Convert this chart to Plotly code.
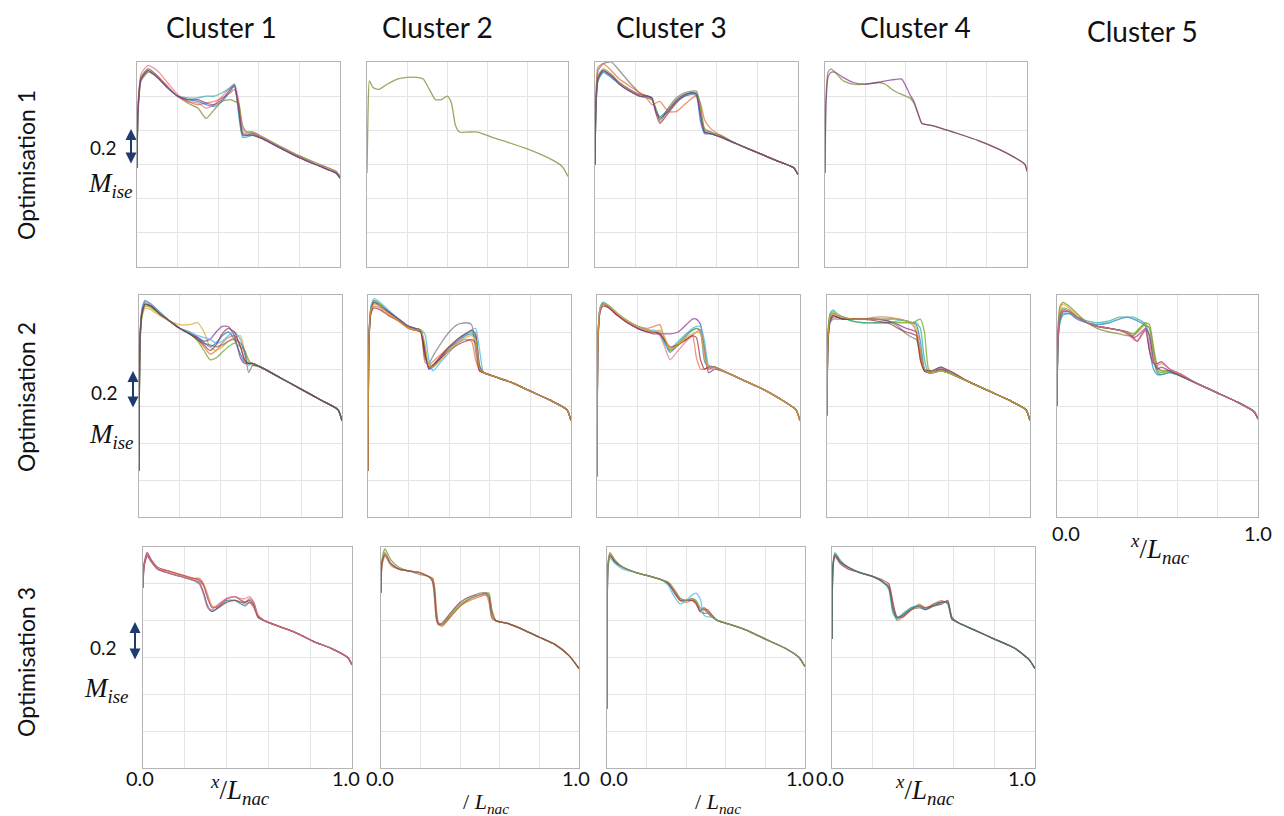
import plotly.graph_objects as go

# page is 1284x816; the browser body adds an 8px margin, so the figure is sized to fit
PAGE_W, PAGE_H, OFF = 1284, 816, 8
W, H = PAGE_W - OFF, PAGE_H - OFF

# ---------------- data: x/L_nac grids and M_ise curves per panel ----------------
X_O1C1 = [0, 0.005, 0.02, 0.055, 0.10, 0.15, 0.20, 0.25, 0.30, 0.34, 0.38, 0.42, 0.46, 0.48, 0.50, 0.52, 0.54, 0.57, 0.62, 0.70, 0.80, 0.90, 0.98, 1.0]
Y_O1C1 = [
    [0.78, 1.12, 1.30, 1.35, 1.31, 1.25, 1.20, 1.18, 1.17, 1.15, 1.14, 1.17, 1.23, 1.26, 1.12, 0.97, 0.97, 0.98, 0.95, 0.90, 0.84, 0.79, 0.75, 0.72],
    [0.78, 1.15, 1.33, 1.38, 1.35, 1.28, 1.21, 1.17, 1.16, 1.13, 1.15, 1.20, 1.25, 1.27, 1.18, 1.01, 0.99, 0.99, 0.96, 0.91, 0.85, 0.80, 0.76, 0.73],
    [0.78, 1.10, 1.29, 1.34, 1.31, 1.25, 1.20, 1.16, 1.13, 1.07, 1.12, 1.17, 1.18, 1.17, 1.16, 1.03, 0.99, 0.99, 0.96, 0.91, 0.85, 0.80, 0.76, 0.73],
    [0.78, 1.13, 1.31, 1.36, 1.32, 1.25, 1.20, 1.19, 1.19, 1.20, 1.20, 1.22, 1.25, 1.27, 1.10, 0.96, 0.96, 0.97, 0.95, 0.90, 0.84, 0.79, 0.75, 0.72],
    [0.78, 1.14, 1.31, 1.36, 1.32, 1.26, 1.20, 1.17, 1.15, 1.16, 1.17, 1.19, 1.22, 1.24, 1.15, 0.99, 0.98, 0.98, 0.95, 0.90, 0.84, 0.79, 0.75, 0.72],
    [0.78, 1.11, 1.30, 1.35, 1.31, 1.25, 1.20, 1.18, 1.18, 1.16, 1.15, 1.18, 1.24, 1.26, 1.14, 0.98, 0.97, 0.97, 0.95, 0.90, 0.84, 0.79, 0.75, 0.72],
]
C_O1C1 = ["blue", "pink", "olive", "teal", "orange", "purple"]

X_O1C2 = [0, 0.005, 0.012, 0.03, 0.06, 0.10, 0.15, 0.20, 0.25, 0.28, 0.31, 0.34, 0.37, 0.40, 0.42, 0.44, 0.46, 0.50, 0.55, 0.62, 0.70, 0.80, 0.90, 0.97, 1.0]
Y_O1C2 = [
    [0.75, 1.10, 1.29, 1.25, 1.24, 1.27, 1.30, 1.31, 1.31, 1.30, 1.24, 1.18, 1.18, 1.20, 1.16, 1.03, 0.99, 0.99, 0.99, 0.96, 0.93, 0.89, 0.84, 0.79, 0.73],
]
C_O1C2 = ["olive"]

X_O1C3 = [0, 0.005, 0.015, 0.04, 0.08, 0.12, 0.17, 0.22, 0.26, 0.28, 0.30, 0.32, 0.36, 0.40, 0.44, 0.48, 0.50, 0.52, 0.54, 0.57, 0.62, 0.70, 0.80, 0.90, 0.98, 1.0]
Y_O1C3 = [
    [0.80, 1.15, 1.30, 1.35, 1.32, 1.28, 1.24, 1.21, 1.20, 1.19, 1.10, 1.04, 1.10, 1.16, 1.20, 1.22, 1.21, 1.10, 0.99, 0.98, 0.96, 0.92, 0.87, 0.82, 0.78, 0.74],
    [0.80, 1.20, 1.35, 1.39, 1.40, 1.35, 1.28, 1.22, 1.20, 1.19, 1.12, 1.06, 1.13, 1.19, 1.22, 1.23, 1.23, 1.14, 1.01, 0.99, 0.97, 0.92, 0.87, 0.82, 0.78, 0.74],
    [0.80, 1.14, 1.29, 1.34, 1.31, 1.27, 1.23, 1.20, 1.19, 1.18, 1.12, 1.08, 1.12, 1.17, 1.20, 1.21, 1.20, 1.05, 0.98, 0.98, 0.96, 0.92, 0.87, 0.82, 0.78, 0.74],
    [0.80, 1.22, 1.37, 1.39, 1.35, 1.30, 1.26, 1.22, 1.18, 1.15, 1.16, 1.17, 1.11, 1.11, 1.15, 1.19, 1.20, 1.16, 1.06, 1.01, 0.97, 0.92, 0.87, 0.82, 0.78, 0.74],
    [0.80, 1.17, 1.32, 1.36, 1.33, 1.28, 1.23, 1.20, 1.19, 1.18, 1.13, 1.05, 1.12, 1.18, 1.21, 1.22, 1.22, 1.12, 1.00, 0.99, 0.96, 0.92, 0.87, 0.82, 0.78, 0.74],
    [0.80, 1.16, 1.31, 1.35, 1.32, 1.27, 1.23, 1.20, 1.20, 1.19, 1.11, 1.07, 1.11, 1.17, 1.21, 1.22, 1.21, 1.08, 0.99, 0.98, 0.96, 0.92, 0.87, 0.82, 0.78, 0.74],
]
C_O1C3 = ["darkred", "gray", "blue", "orange", "green", "purple"]

X_O1C4 = [0, 0.005, 0.015, 0.03, 0.05, 0.09, 0.14, 0.20, 0.26, 0.30, 0.33, 0.36, 0.38, 0.40, 0.42, 0.44, 0.46, 0.48, 0.52, 0.58, 0.66, 0.76, 0.86, 0.94, 0.99, 1.0]
Y_O1C4 = [
    [0.75, 1.20, 1.34, 1.36, 1.34, 1.29, 1.27, 1.27, 1.28, 1.27, 1.24, 1.22, 1.21, 1.20, 1.19, 1.16, 1.10, 1.04, 1.03, 1.01, 0.98, 0.94, 0.89, 0.84, 0.80, 0.76],
    [0.75, 1.15, 1.31, 1.34, 1.34, 1.31, 1.28, 1.27, 1.28, 1.29, 1.295, 1.30, 1.30, 1.26, 1.21, 1.17, 1.10, 1.04, 1.03, 1.01, 0.98, 0.94, 0.89, 0.84, 0.80, 0.76],
]
C_O1C4 = ["olive", "purple"]

X_O2C1 = [0, 0.005, 0.015, 0.03, 0.06, 0.10, 0.15, 0.20, 0.25, 0.29, 0.32, 0.35, 0.38, 0.41, 0.44, 0.47, 0.50, 0.52, 0.54, 0.56, 0.60, 0.70, 0.80, 0.90, 0.98, 1.0]
Y_O2C1 = [
    [0.45, 1.15, 1.30, 1.35, 1.34, 1.30, 1.26, 1.22, 1.20, 1.17, 1.14, 1.12, 1.14, 1.18, 1.20, 1.16, 1.08, 1.04, 1.03, 1.03, 1.01, 0.95, 0.89, 0.83, 0.78, 0.72],
    [0.45, 1.17, 1.31, 1.36, 1.34, 1.30, 1.26, 1.22, 1.19, 1.16, 1.12, 1.08, 1.10, 1.14, 1.17, 1.18, 1.12, 1.05, 1.03, 1.03, 1.01, 0.95, 0.89, 0.83, 0.78, 0.72],
    [0.45, 1.13, 1.28, 1.33, 1.32, 1.29, 1.26, 1.24, 1.24, 1.25, 1.20, 1.12, 1.10, 1.12, 1.15, 1.17, 1.18, 1.10, 1.04, 1.03, 1.01, 0.95, 0.89, 0.83, 0.78, 0.72],
    [0.45, 1.16, 1.32, 1.37, 1.35, 1.31, 1.26, 1.22, 1.19, 1.17, 1.15, 1.16, 1.20, 1.23, 1.23, 1.18, 1.06, 1.03, 1.03, 1.03, 1.01, 0.95, 0.89, 0.83, 0.78, 0.72],
    [0.45, 1.14, 1.29, 1.34, 1.33, 1.30, 1.26, 1.22, 1.19, 1.15, 1.10, 1.05, 1.06, 1.09, 1.12, 1.14, 1.12, 1.10, 1.05, 1.02, 1.01, 0.95, 0.89, 0.83, 0.78, 0.72],
    [0.45, 1.18, 1.33, 1.37, 1.35, 1.31, 1.26, 1.22, 1.20, 1.18, 1.17, 1.16, 1.14, 1.15, 1.18, 1.20, 1.16, 1.08, 1.02, 1.03, 1.01, 0.95, 0.89, 0.83, 0.78, 0.72],
    [0.45, 1.15, 1.30, 1.35, 1.34, 1.30, 1.26, 1.22, 1.19, 1.16, 1.13, 1.10, 1.13, 1.19, 1.22, 1.20, 1.12, 1.05, 1.03, 1.03, 1.01, 0.95, 0.89, 0.83, 0.78, 0.72],
    [0.45, 1.16, 1.31, 1.35, 1.34, 1.30, 1.26, 1.22, 1.19, 1.16, 1.14, 1.13, 1.12, 1.13, 1.15, 1.16, 1.14, 1.10, 0.98, 1.02, 1.01, 0.95, 0.89, 0.83, 0.78, 0.72],
]
C_O2C1 = ["blue", "orange", "yellow", "purple", "green", "lightblue", "darkred", "gray"]

X_O2C2 = [0, 0.005, 0.015, 0.03, 0.06, 0.10, 0.15, 0.20, 0.23, 0.26, 0.28, 0.30, 0.32, 0.36, 0.40, 0.44, 0.48, 0.51, 0.53, 0.55, 0.57, 0.62, 0.70, 0.80, 0.90, 0.98, 1.0]
Y_O2C2 = [
    [0.45, 1.18, 1.33, 1.37, 1.35, 1.31, 1.27, 1.23, 1.22, 1.21, 1.10, 1.00, 1.01, 1.06, 1.11, 1.15, 1.18, 1.19, 1.17, 1.00, 0.98, 0.96, 0.93, 0.88, 0.83, 0.78, 0.72],
    [0.45, 1.16, 1.31, 1.34, 1.33, 1.30, 1.26, 1.22, 1.21, 1.20, 1.04, 1.02, 1.04, 1.08, 1.12, 1.14, 1.16, 1.15, 1.05, 0.99, 0.98, 0.96, 0.93, 0.88, 0.83, 0.78, 0.72],
    [0.45, 1.17, 1.32, 1.36, 1.34, 1.31, 1.27, 1.23, 1.22, 1.20, 1.06, 1.03, 1.07, 1.14, 1.20, 1.24, 1.25, 1.24, 1.10, 0.99, 0.98, 0.96, 0.93, 0.88, 0.83, 0.78, 0.72],
    [0.45, 1.19, 1.34, 1.38, 1.36, 1.32, 1.27, 1.23, 1.22, 1.21, 1.19, 1.05, 0.99, 1.04, 1.09, 1.14, 1.18, 1.21, 1.22, 1.10, 0.98, 0.96, 0.93, 0.88, 0.83, 0.78, 0.72],
    [0.45, 1.18, 1.33, 1.37, 1.35, 1.31, 1.27, 1.23, 1.22, 1.21, 1.12, 1.01, 1.02, 1.07, 1.12, 1.16, 1.19, 1.20, 1.18, 1.02, 0.98, 0.96, 0.93, 0.88, 0.83, 0.78, 0.72],
    [0.45, 1.15, 1.30, 1.33, 1.32, 1.29, 1.26, 1.22, 1.21, 1.20, 1.08, 1.01, 1.02, 1.06, 1.10, 1.13, 1.15, 1.16, 1.14, 0.99, 0.98, 0.96, 0.93, 0.88, 0.83, 0.78, 0.72],
    [0.45, 1.17, 1.32, 1.36, 1.34, 1.31, 1.27, 1.23, 1.22, 1.21, 1.10, 1.00, 1.02, 1.07, 1.12, 1.16, 1.19, 1.21, 1.19, 1.01, 0.98, 0.96, 0.93, 0.88, 0.83, 0.78, 0.72],
    [0.45, 1.17, 1.32, 1.35, 1.34, 1.30, 1.26, 1.22, 1.21, 1.21, 1.14, 1.02, 1.01, 1.05, 1.10, 1.14, 1.17, 1.18, 1.16, 1.00, 0.98, 0.96, 0.93, 0.88, 0.83, 0.78, 0.72],
]
C_O2C2 = ["blue", "orange", "gray", "lightblue", "green", "darkred", "purple", "yellow"]

X_O2C3 = [0, 0.005, 0.015, 0.03, 0.06, 0.10, 0.15, 0.20, 0.25, 0.28, 0.31, 0.33, 0.36, 0.40, 0.44, 0.47, 0.49, 0.51, 0.53, 0.55, 0.58, 0.64, 0.72, 0.80, 0.90, 0.98, 1.0]
Y_O2C3 = [
    [0.42, 1.17, 1.32, 1.35, 1.34, 1.30, 1.26, 1.23, 1.21, 1.20, 1.19, 1.15, 1.09, 1.13, 1.18, 1.21, 1.22, 1.20, 1.04, 1.01, 1.01, 0.98, 0.94, 0.90, 0.84, 0.78, 0.72],
    [0.42, 1.18, 1.33, 1.36, 1.34, 1.30, 1.26, 1.23, 1.22, 1.23, 1.24, 1.17, 1.10, 1.13, 1.16, 1.18, 1.06, 1.00, 1.00, 1.01, 1.01, 0.98, 0.94, 0.90, 0.84, 0.78, 0.72],
    [0.42, 1.15, 1.31, 1.34, 1.33, 1.29, 1.25, 1.22, 1.20, 1.19, 1.19, 1.19, 1.19, 1.20, 1.24, 1.27, 1.27, 1.24, 1.10, 0.98, 1.00, 0.98, 0.94, 0.90, 0.84, 0.78, 0.72],
    [0.42, 1.16, 1.32, 1.36, 1.34, 1.30, 1.26, 1.23, 1.21, 1.20, 1.19, 1.16, 1.10, 1.14, 1.19, 1.21, 1.22, 1.21, 1.12, 1.00, 1.01, 0.98, 0.94, 0.90, 0.84, 0.78, 0.72],
    [0.42, 1.17, 1.32, 1.35, 1.33, 1.29, 1.25, 1.22, 1.21, 1.20, 1.18, 1.13, 1.05, 1.10, 1.15, 1.18, 1.20, 1.21, 1.08, 1.00, 1.01, 0.98, 0.94, 0.90, 0.84, 0.78, 0.72],
    [0.42, 1.18, 1.33, 1.36, 1.34, 1.30, 1.26, 1.23, 1.21, 1.21, 1.20, 1.14, 1.11, 1.15, 1.19, 1.22, 1.23, 1.23, 1.15, 1.02, 1.01, 0.98, 0.94, 0.90, 0.84, 0.78, 0.72],
    [0.42, 1.16, 1.31, 1.35, 1.33, 1.29, 1.25, 1.22, 1.20, 1.20, 1.19, 1.16, 1.12, 1.13, 1.16, 1.18, 1.17, 1.05, 1.00, 1.01, 1.01, 0.98, 0.94, 0.90, 0.84, 0.78, 0.72],
    [0.42, 1.17, 1.32, 1.35, 1.34, 1.30, 1.26, 1.23, 1.21, 1.20, 1.21, 1.18, 1.11, 1.13, 1.17, 1.19, 1.20, 1.19, 1.06, 1.01, 1.01, 0.98, 0.94, 0.90, 0.84, 0.78, 0.72],
]
C_O2C3 = ["blue", "orange", "purple", "green", "pink", "lightblue", "darkred", "yellow"]

X_O2C4 = [0, 0.005, 0.015, 0.03, 0.05, 0.08, 0.12, 0.18, 0.24, 0.30, 0.35, 0.39, 0.42, 0.44, 0.46, 0.48, 0.50, 0.52, 0.56, 0.62, 0.70, 0.80, 0.90, 0.98, 1.0]
Y_O2C4 = [
    [0.75, 1.18, 1.28, 1.30, 1.29, 1.28, 1.27, 1.27, 1.27, 1.27, 1.27, 1.26, 1.25, 1.24, 1.15, 1.00, 0.98, 0.98, 0.99, 0.97, 0.93, 0.88, 0.83, 0.78, 0.72],
    [0.75, 1.17, 1.27, 1.29, 1.28, 1.27, 1.27, 1.27, 1.28, 1.28, 1.27, 1.26, 1.24, 1.20, 1.05, 0.99, 0.98, 0.98, 1.00, 0.97, 0.93, 0.88, 0.83, 0.78, 0.72],
    [0.75, 1.15, 1.26, 1.28, 1.28, 1.27, 1.27, 1.27, 1.27, 1.26, 1.24, 1.22, 1.21, 1.20, 1.10, 0.99, 0.98, 0.98, 1.00, 0.97, 0.93, 0.88, 0.83, 0.78, 0.72],
    [0.75, 1.19, 1.29, 1.31, 1.29, 1.28, 1.26, 1.25, 1.25, 1.25, 1.25, 1.25, 1.25, 1.26, 1.27, 1.20, 1.00, 0.98, 0.99, 0.97, 0.93, 0.88, 0.83, 0.78, 0.72],
    [0.75, 1.20, 1.30, 1.32, 1.30, 1.28, 1.26, 1.25, 1.25, 1.25, 1.26, 1.26, 1.25, 1.25, 1.22, 1.05, 0.98, 0.98, 0.99, 0.97, 0.93, 0.88, 0.83, 0.78, 0.72],
    [0.75, 1.16, 1.26, 1.29, 1.28, 1.27, 1.27, 1.27, 1.26, 1.25, 1.22, 1.20, 1.19, 1.18, 1.05, 0.99, 0.99, 0.99, 1.01, 0.98, 0.93, 0.88, 0.83, 0.78, 0.72],
    [0.75, 1.14, 1.25, 1.27, 1.27, 1.27, 1.27, 1.27, 1.27, 1.26, 1.23, 1.19, 1.17, 1.16, 1.08, 1.00, 0.99, 0.99, 1.01, 0.98, 0.93, 0.88, 0.83, 0.78, 0.72],
    [0.75, 1.17, 1.28, 1.30, 1.29, 1.28, 1.27, 1.27, 1.27, 1.27, 1.27, 1.26, 1.25, 1.22, 1.10, 1.00, 0.98, 0.98, 0.99, 0.97, 0.93, 0.88, 0.83, 0.78, 0.72],
]
C_O2C4 = ["blue", "orange", "purple", "green", "teal", "darkred", "gray", "yellow"]

X_O2C5 = [0, 0.005, 0.015, 0.03, 0.06, 0.10, 0.15, 0.20, 0.26, 0.31, 0.35, 0.38, 0.40, 0.42, 0.44, 0.46, 0.48, 0.50, 0.52, 0.56, 0.62, 0.70, 0.80, 0.90, 0.98, 1.0]
Y_O2C5 = [
    [0.80, 1.15, 1.26, 1.30, 1.30, 1.27, 1.25, 1.24, 1.25, 1.27, 1.28, 1.27, 1.26, 1.25, 1.23, 1.10, 1.00, 0.97, 0.97, 0.98, 0.96, 0.92, 0.87, 0.82, 0.77, 0.73],
    [0.80, 1.20, 1.32, 1.35, 1.33, 1.29, 1.25, 1.23, 1.22, 1.21, 1.20, 1.19, 1.20, 1.22, 1.24, 1.22, 1.10, 1.00, 0.99, 0.99, 0.96, 0.92, 0.87, 0.82, 0.77, 0.73],
    [0.80, 1.22, 1.34, 1.36, 1.34, 1.30, 1.25, 1.22, 1.20, 1.19, 1.18, 1.18, 1.20, 1.23, 1.25, 1.24, 1.12, 1.01, 0.99, 0.99, 0.96, 0.92, 0.87, 0.82, 0.77, 0.73],
    [0.80, 1.17, 1.29, 1.32, 1.31, 1.28, 1.25, 1.23, 1.22, 1.21, 1.20, 1.17, 1.15, 1.18, 1.21, 1.10, 1.03, 1.03, 1.04, 1.00, 0.97, 0.92, 0.87, 0.82, 0.77, 0.73],
    [0.80, 1.14, 1.25, 1.29, 1.30, 1.28, 1.26, 1.25, 1.26, 1.28, 1.28, 1.28, 1.27, 1.26, 1.24, 1.18, 1.05, 0.98, 0.97, 0.98, 0.96, 0.92, 0.87, 0.82, 0.77, 0.73],
    [0.80, 1.18, 1.30, 1.33, 1.32, 1.28, 1.25, 1.23, 1.22, 1.21, 1.20, 1.19, 1.21, 1.23, 1.24, 1.22, 1.08, 0.99, 0.98, 0.99, 0.96, 0.92, 0.87, 0.82, 0.77, 0.73],
    [0.80, 1.16, 1.28, 1.31, 1.31, 1.28, 1.25, 1.23, 1.22, 1.21, 1.19, 1.17, 1.18, 1.20, 1.22, 1.18, 1.04, 1.00, 1.01, 0.99, 0.96, 0.92, 0.87, 0.82, 0.77, 0.73],
    [0.80, 1.17, 1.29, 1.32, 1.31, 1.28, 1.25, 1.23, 1.22, 1.21, 1.19, 1.16, 1.15, 1.19, 1.21, 1.14, 1.04, 1.02, 1.03, 1.00, 0.97, 0.92, 0.87, 0.82, 0.77, 0.73],
]
C_O2C5 = ["blue", "yellow", "olive", "darkred", "teal", "green", "purple", "pink"]

X_O3C1 = [0, 0.005, 0.02, 0.04, 0.07, 0.12, 0.18, 0.24, 0.27, 0.29, 0.31, 0.33, 0.36, 0.40, 0.44, 0.47, 0.49, 0.51, 0.53, 0.55, 0.58, 0.66, 0.74, 0.82, 0.90, 0.98, 1.0]
Y_O3C1 = [
    [1.18, 1.30, 1.36, 1.32, 1.28, 1.26, 1.24, 1.22, 1.20, 1.15, 1.08, 1.05, 1.07, 1.11, 1.11, 1.09, 1.08, 1.10, 1.08, 1.02, 1.00, 0.965, 0.93, 0.885, 0.85, 0.80, 0.76],
    [1.18, 1.31, 1.37, 1.33, 1.29, 1.27, 1.25, 1.23, 1.22, 1.19, 1.12, 1.07, 1.08, 1.12, 1.13, 1.11, 1.10, 1.11, 1.09, 1.02, 1.00, 0.965, 0.93, 0.885, 0.85, 0.80, 0.76],
    [1.18, 1.30, 1.35, 1.32, 1.28, 1.27, 1.25, 1.23, 1.23, 1.20, 1.14, 1.08, 1.07, 1.10, 1.11, 1.10, 1.09, 1.10, 1.07, 1.02, 1.00, 0.965, 0.93, 0.885, 0.85, 0.80, 0.76],
    [1.18, 1.29, 1.35, 1.32, 1.28, 1.26, 1.24, 1.22, 1.21, 1.15, 1.07, 1.05, 1.07, 1.10, 1.11, 1.10, 1.10, 1.12, 1.10, 1.03, 1.00, 0.965, 0.93, 0.885, 0.85, 0.80, 0.76],
    [1.18, 1.30, 1.36, 1.32, 1.28, 1.26, 1.24, 1.22, 1.20, 1.14, 1.07, 1.06, 1.09, 1.12, 1.13, 1.12, 1.12, 1.13, 1.10, 1.03, 1.00, 0.965, 0.93, 0.885, 0.85, 0.80, 0.76],
]
C_O3C1 = ["blue", "darkred", "orange", "gray", "pink"]

X_O3C2 = [0, 0.005, 0.02, 0.05, 0.09, 0.14, 0.20, 0.24, 0.26, 0.27, 0.28, 0.29, 0.31, 0.35, 0.40, 0.45, 0.50, 0.53, 0.545, 0.56, 0.58, 0.64, 0.72, 0.80, 0.88, 0.95, 1.0]
Y_O3C2 = [
    [1.15, 1.32, 1.37, 1.31, 1.28, 1.27, 1.26, 1.24, 1.22, 1.15, 1.02, 0.98, 0.98, 1.03, 1.09, 1.12, 1.14, 1.15, 1.14, 1.04, 1.00, 0.985, 0.95, 0.91, 0.87, 0.81, 0.74],
    [1.15, 1.33, 1.39, 1.33, 1.29, 1.27, 1.26, 1.24, 1.23, 1.18, 1.04, 0.98, 0.97, 1.02, 1.08, 1.12, 1.14, 1.15, 1.15, 1.06, 1.00, 0.985, 0.95, 0.91, 0.87, 0.81, 0.74],
    [1.15, 1.31, 1.36, 1.31, 1.28, 1.27, 1.26, 1.24, 1.22, 1.12, 1.00, 0.98, 0.98, 1.04, 1.10, 1.13, 1.14, 1.14, 1.10, 1.01, 1.00, 0.985, 0.95, 0.91, 0.87, 0.81, 0.74],
    [1.15, 1.30, 1.35, 1.30, 1.28, 1.27, 1.26, 1.24, 1.23, 1.19, 1.06, 0.99, 0.98, 1.02, 1.08, 1.11, 1.13, 1.14, 1.13, 1.05, 1.00, 0.985, 0.95, 0.91, 0.87, 0.81, 0.74],
    [1.15, 1.32, 1.36, 1.31, 1.28, 1.27, 1.25, 1.24, 1.21, 1.14, 1.01, 0.98, 0.99, 1.04, 1.10, 1.13, 1.15, 1.15, 1.12, 1.02, 1.00, 0.985, 0.95, 0.91, 0.87, 0.81, 0.74],
]
C_O3C2 = ["green", "olive", "pink", "orange", "gray"]

X_O3C3 = [0, 0.005, 0.015, 0.04, 0.08, 0.15, 0.22, 0.28, 0.31, 0.34, 0.37, 0.40, 0.43, 0.45, 0.47, 0.49, 0.51, 0.53, 0.56, 0.62, 0.70, 0.80, 0.90, 0.97, 1.0]
Y_O3C3 = [
    [0.52, 1.30, 1.36, 1.32, 1.29, 1.26, 1.24, 1.22, 1.20, 1.16, 1.11, 1.10, 1.11, 1.10, 1.06, 1.06, 1.06, 1.03, 1.00, 0.98, 0.95, 0.90, 0.85, 0.80, 0.75],
    [0.52, 1.29, 1.35, 1.32, 1.29, 1.26, 1.24, 1.22, 1.20, 1.15, 1.11, 1.11, 1.11, 1.09, 1.05, 1.07, 1.05, 1.03, 1.00, 0.98, 0.95, 0.90, 0.85, 0.80, 0.75],
    [0.52, 1.28, 1.34, 1.31, 1.28, 1.26, 1.24, 1.22, 1.19, 1.13, 1.09, 1.11, 1.14, 1.15, 1.12, 1.03, 1.02, 1.02, 1.00, 0.98, 0.95, 0.90, 0.85, 0.80, 0.75],
    [0.52, 1.30, 1.36, 1.32, 1.29, 1.26, 1.24, 1.22, 1.20, 1.16, 1.12, 1.11, 1.12, 1.10, 1.05, 1.04, 1.04, 1.02, 1.00, 0.98, 0.95, 0.90, 0.85, 0.80, 0.75],
    [0.52, 1.31, 1.37, 1.33, 1.29, 1.26, 1.24, 1.22, 1.21, 1.17, 1.12, 1.11, 1.12, 1.11, 1.07, 1.06, 1.04, 1.02, 1.00, 0.98, 0.95, 0.90, 0.85, 0.80, 0.75],
]
C_O3C3 = ["orange", "darkred", "lightblue", "gray", "olive"]

X_O3C4 = [0, 0.005, 0.015, 0.04, 0.08, 0.14, 0.20, 0.25, 0.28, 0.30, 0.32, 0.35, 0.39, 0.43, 0.46, 0.50, 0.54, 0.57, 0.59, 0.62, 0.70, 0.80, 0.90, 0.97, 1.0]
Y_O3C4 = [
    [0.90, 1.30, 1.36, 1.32, 1.29, 1.26, 1.24, 1.21, 1.18, 1.06, 1.01, 1.03, 1.07, 1.08, 1.06, 1.09, 1.10, 1.10, 1.01, 0.99, 0.95, 0.90, 0.85, 0.79, 0.74],
    [0.90, 1.29, 1.35, 1.31, 1.28, 1.26, 1.24, 1.22, 1.20, 1.10, 1.02, 1.02, 1.06, 1.08, 1.07, 1.08, 1.09, 1.11, 1.02, 0.99, 0.95, 0.90, 0.85, 0.79, 0.74],
    [0.90, 1.30, 1.35, 1.32, 1.29, 1.26, 1.24, 1.21, 1.19, 1.08, 1.00, 1.02, 1.06, 1.09, 1.07, 1.09, 1.11, 1.09, 1.01, 0.99, 0.95, 0.90, 0.85, 0.79, 0.74],
    [0.90, 1.31, 1.37, 1.33, 1.29, 1.26, 1.24, 1.21, 1.17, 1.04, 1.01, 1.04, 1.07, 1.08, 1.06, 1.08, 1.10, 1.10, 1.02, 0.99, 0.95, 0.90, 0.85, 0.79, 0.74],
    [0.90, 1.30, 1.36, 1.32, 1.29, 1.26, 1.24, 1.21, 1.18, 1.07, 1.02, 1.03, 1.06, 1.07, 1.06, 1.08, 1.10, 1.10, 1.01, 0.99, 0.95, 0.90, 0.85, 0.79, 0.74],
]
C_O3C4 = ["blue", "darkred", "orange", "teal", "gray"]

COLUMN_TITLES = ["Cluster 1", "Cluster 2", "Cluster 3", "Cluster 4", "Cluster 5"]
ROW_TITLES = ["Optimisation 1", "Optimisation 2", "Optimisation 3"]
SCALE_LABEL = "0.2"
Y_LABEL = "<i>M</i><sub><i>ise</i></sub>"
X_LABEL = "<sup><i>x</i></sup>/<i>L</i><sub><i>nac</i></sub>"
X_LABEL_CUT = "/ <i>L</i><sub><i>nac</i></sub>"
X_TICKS = ["0.0", "1.0"]

# ---------------- styling / layout ----------------
PAL = {
    "blue": "rgba(0,114,189,0.65)",
    "orange": "rgba(217,83,25,0.6)",
    "yellow": "rgba(220,170,40,0.75)",
    "purple": "rgba(126,47,142,0.7)",
    "green": "rgba(119,172,48,0.8)",
    "lightblue": "rgba(77,190,238,0.8)",
    "darkred": "rgba(162,20,47,0.65)",
    "gray": "rgba(90,90,90,0.6)",
    "pink": "rgba(230,110,140,0.7)",
    "olive": "rgba(140,150,70,0.85)",
    "teal": "rgba(40,170,150,0.7)",
}

def PX(px):
    return (px - OFF) / W

def PY(py):
    return 1 - (py - OFF) / H

# panel boxes in page pixels: left, right, top, bottom
PANELS = [
    ("O1C1", X_O1C1, Y_O1C1, C_O1C1, (137, 340, 62, 267)),
    ("O1C2", X_O1C2, Y_O1C2, C_O1C2, (367, 568, 62, 267)),
    ("O1C3", X_O1C3, Y_O1C3, C_O1C3, (595, 798, 62, 267)),
    ("O1C4", X_O1C4, Y_O1C4, C_O1C4, (825, 1027, 62, 267)),
    ("O2C1", X_O2C1, Y_O2C1, C_O2C1, (139, 342, 295, 517)),
    ("O2C2", X_O2C2, Y_O2C2, C_O2C2, (368, 571, 295, 517)),
    ("O2C3", X_O2C3, Y_O2C3, C_O2C3, (597, 800, 295, 517)),
    ("O2C4", X_O2C4, Y_O2C4, C_O2C4, (827, 1030, 295, 517)),
    ("O2C5", X_O2C5, Y_O2C5, C_O2C5, (1057, 1258, 295, 517)),
    ("O3C1", X_O3C1, Y_O3C1, C_O3C1, (143, 352, 547, 768)),
    ("O3C2", X_O3C2, Y_O3C2, C_O3C2, (381, 579, 547, 768)),
    ("O3C3", X_O3C3, Y_O3C3, C_O3C3, (607, 805, 547, 768)),
    ("O3C4", X_O3C4, Y_O3C4, C_O3C4, (832, 1035, 547, 768)),
]

fig = go.Figure()
layout_axes = {}
for i, (key, X, Ys, cols, box) in enumerate(PANELS, start=1):
    sfx = "" if i == 1 else str(i)
    for yv, c in zip(Ys, cols):
        fig.add_trace(go.Scatter(
            x=X, y=yv, mode="lines",
            line=dict(color=PAL[c], width=1.3, shape="spline", smoothing=0.55),
            xaxis="x" + sfx, yaxis="y" + sfx, showlegend=False, hoverinfo="skip",
        ))
    L, R, T, B = box
    common = dict(showgrid=True, gridcolor="#e4e4e4", gridwidth=1, showline=True,
                  linecolor="#b4b4b4", linewidth=1, mirror=True, showticklabels=False,
                  ticks="", zeroline=False, fixedrange=True)
    layout_axes["xaxis" + sfx] = dict(domain=[PX(L), PX(R)], anchor="y" + sfx,
                                      range=[0, 1], dtick=0.2, **common)
    layout_axes["yaxis" + sfx] = dict(domain=[PY(B), PY(T)], anchor="x" + sfx,
                                      range=[0.2, 1.4], dtick=0.2, **common)

fig.update_layout(**layout_axes)

ann = []
def txt(text, px, py, size, family="Lato, sans-serif", angle=0, color="#111"):
    ann.append(dict(text=text, x=PX(px), y=PY(py), xref="paper", yref="paper",
                    showarrow=False, xanchor="center", yanchor="middle",
                    textangle=angle, font=dict(family=family, size=size, color=color)))

for t, px, py in zip(COLUMN_TITLES, [222, 437, 671, 915, 1142], [27, 27, 27, 27, 31]):
    txt(t, px, py, 28)
for t, py in zip(ROW_TITLES, [165, 397, 662]):
    txt(t, 26, py, 23, angle=-90)

for px, py in [(103, 148), (105, 392), (103, 647)]:
    txt(SCALE_LABEL, px, py, 19)
for px, py in [(110, 185), (111, 436), (106, 690)]:
    txt(Y_LABEL, px, py, 27, family="Liberation Serif, serif")

# double-headed scale arrows
for px, ytop, ybot in [(131, 129, 165), (133, 371, 409), (135, 622, 661)]:
    ann.append(dict(text="", x=PX(px), y=PY(ytop), xref="paper", yref="paper",
                    ax=0, ay=ybot - ytop, axref="pixel", ayref="pixel",
                    showarrow=True, arrowhead=2, arrowsize=1.1, arrowwidth=2,
                    arrowside="end+start", arrowcolor="#1f3b6e", standoff=0, startstandoff=0))

# x tick labels (0.0 / 1.0)
tick_pos = [(140, 0), (346, 1), (380, 0), (576, 1), (614, 0), (800, 1), (830, 0), (1022, 1)]
for px, k in tick_pos:
    txt(X_TICKS[k], px, 778, 20)
txt(X_TICKS[0], 1066, 533, 20)
txt(X_TICKS[1], 1258, 533, 20)

# x axis labels
txt(X_LABEL, 240, 790, 27, family="Liberation Serif, serif")
txt(X_LABEL_CUT, 486, 803, 22, family="Liberation Serif, serif")
txt(X_LABEL_CUT, 718, 803, 22, family="Liberation Serif, serif")
txt(X_LABEL, 925, 790, 27, family="Liberation Serif, serif")
txt(X_LABEL, 1160, 549, 27, family="Liberation Serif, serif")

fig.update_layout(annotations=ann, width=W, height=H,
                  margin=dict(l=0, r=0, t=0, b=0),
                  paper_bgcolor="white", plot_bgcolor="white")

fig.write_html("out.html")
